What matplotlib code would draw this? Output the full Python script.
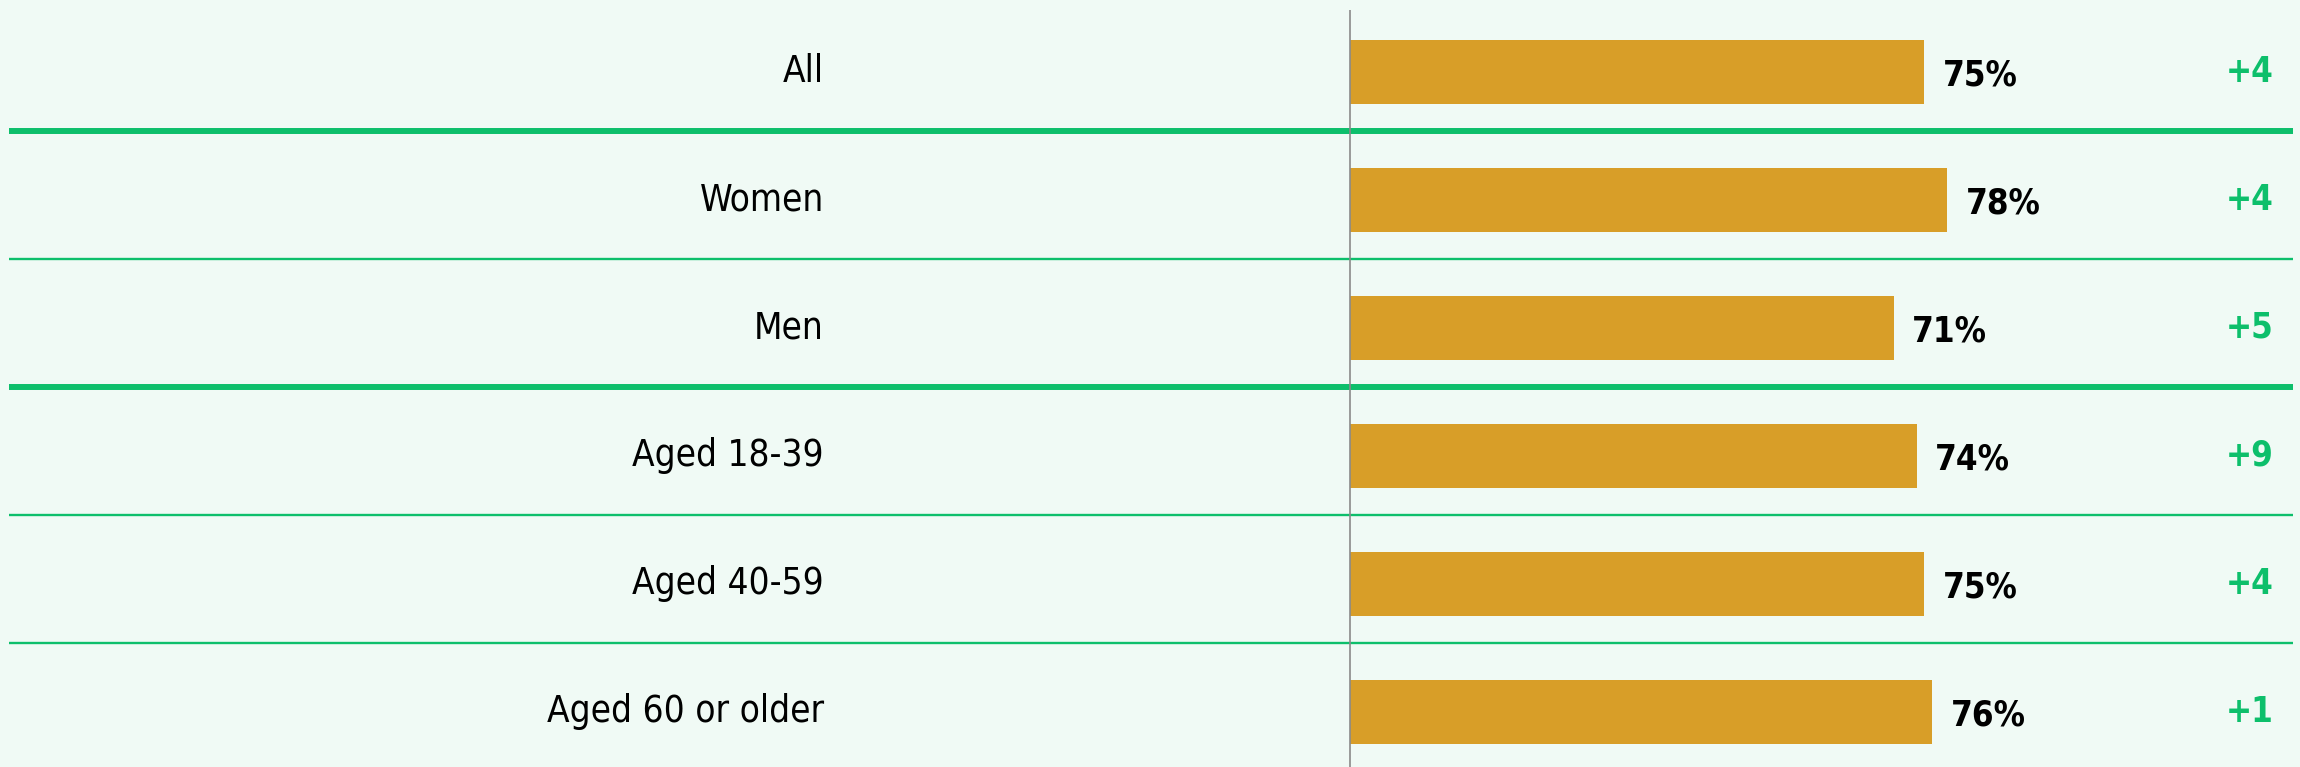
import matplotlib
matplotlib.use("Agg")
import matplotlib.pyplot as plt
from matplotlib import font_manager

# Data
categories = ["All", "Women", "Men", "Aged 18-39", "Aged 40-59", "Aged 60 or older"]
values = [75, 78, 71, 74, 75, 76]
changes = ["+4", "+4", "+5", "+9", "+4", "+1"]
thick_after = [0, 2]  # rows followed by a thick separator

# prefer a condensed face if one is installed
cond = [f for f in font_manager.fontManager.ttflist
        if ("Condensed" in f.fname or "Narrow" in f.fname) and "Bold" not in f.fname
        and "Oblique" not in f.fname and "Italic" not in f.fname]
cond_bold = [f for f in font_manager.fontManager.ttflist
             if ("Condensed" in f.fname or "Narrow" in f.fname) and "Bold" in f.fname
             and "Oblique" not in f.fname and "Italic" not in f.fname]
reg = font_manager.FontProperties(fname=cond[0].fname) if cond else font_manager.FontProperties(family="DejaVu Sans")
bold = font_manager.FontProperties(fname=cond_bold[0].fname) if cond_bold else font_manager.FontProperties(family="DejaVu Sans", weight="bold")

bg = "#f0faf5"
bar_color = "#d89e28"
green = "#0dbf6b"

fig = plt.figure(figsize=(23, 7.67), dpi=100, facecolor=bg)
ax = fig.add_axes([0, 0, 1, 1], facecolor=bg)

y = list(range(len(categories)))
ax.barh(y, values, height=0.5, color=bar_color, zorder=2)

ax.vlines(0, -0.484, 5.45, color="#8a8a8a", lw=1.2, zorder=3)

for i in range(len(categories) - 1):
    lw = 4.3 if i in thick_after else 1.7
    ax.hlines(i + 0.46, -174.9, 123.1, color=green, lw=lw, zorder=1)

for i, (cat, v, ch) in enumerate(zip(categories, values, changes)):
    ax.text(-68.6, i, cat, ha="right", va="center", fontproperties=reg, fontsize=26.5, color="black")
    ax.text(v + 2.4, i + 0.03, f"{v}%", ha="left", va="center", fontproperties=bold,
            fontsize=25, color="black")
    ax.text(120.5, i, ch, ha="right", va="center", fontproperties=bold, fontsize=25, color=green)

ax.set_xlim(-176.1, 124.0)
ax.set_ylim(5.43, -0.5625)
ax.axis("off")

fig.savefig("out.png", dpi=100, facecolor=bg)
